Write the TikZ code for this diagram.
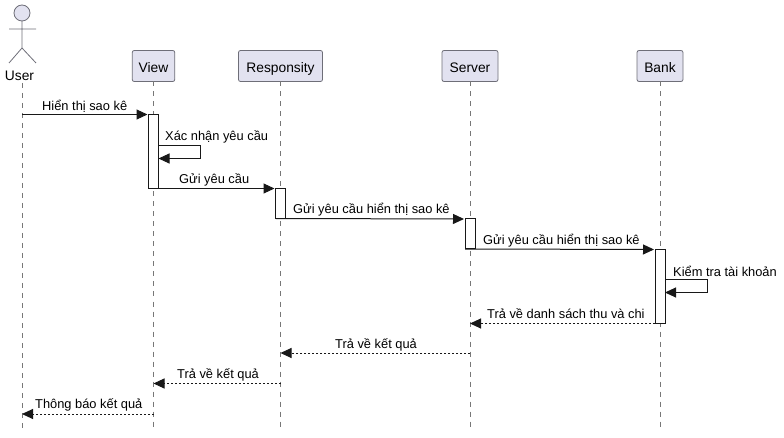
\documentclass[tikz,border=0pt]{standalone}
\usepackage{fontspec}
\setmainfont{Liberation Sans}
\usetikzlibrary{arrows.meta}
\definecolor{partfill}{HTML}{E2E2F0}
\definecolor{partline}{HTML}{6E6E78}
\definecolor{lifecol}{HTML}{777777}
\definecolor{msgcol}{HTML}{181818}
\tikzset{
  x=1pt,y=-1pt,
  part/.style={draw=partline,fill=partfill,rounded corners=2pt,line width=.8pt,minimum height=31pt,inner sep=0pt,outer sep=0pt,font=\fontsize{13.8}{14}\selectfont,anchor=center,text depth=0pt,text height=13pt},
  life/.style={draw=lifecol,line width=.8pt,dash pattern=on 5pt off 5pt},
  act/.style={draw=msgcol,fill=white,line width=1pt,minimum width=10pt,inner sep=0pt,outer sep=0pt,anchor=north,rectangle},
  msg/.style={draw=msgcol,line width=1pt,-{Triangle[length=11pt,width=10pt,color=msgcol]}},
  fwd/.style={msg,shorten >=1pt},
  ret/.style={msg,dash pattern=on 2pt off 2pt},
  lab/.style={inner sep=0pt,anchor=west,font=\fontsize{12.85}{14}\selectfont,text=black},
}
\begin{document}
\begin{tikzpicture}
\useasboundingbox (0,0) rectangle (784,438);
% participants
\node[part,minimum width=42.5pt] (view) at (153.5,66) {View};
\node[part,minimum width=84pt] (resp) at (280.5,66) {Responsity};
\node[part,minimum width=56pt] (serv) at (470,66) {Server};
\node[part,minimum width=46pt] (bank) at (660,66) {Bank};
% actor
\node[draw=partline,fill=partfill,circle,minimum size=16pt,inner sep=0pt,outer sep=0pt,line width=.8pt] (head) at (22,13) {};
\coordinate (hip) at (22,48);
\coordinate (armL) at (9,29);
\coordinate (armR) at (36,29);
\coordinate (legL) at (9,63);
\coordinate (legR) at (36,63);
\draw[draw=partline,line width=.8pt] (head.south) -- (hip) (armL) -- (armR) (legL) -- (hip) -- (legR);
\node[inner sep=0pt,font=\fontsize{13.8}{14}\selectfont] (user) at (19.5,75.5) {User};
% lifeline ends
\coordinate (userTop) at (22,83);
\coordinate (userEnd) at (22,428);
\coordinate (viewEnd) at (153.5,428);
\coordinate (respEnd) at (280.5,428);
\coordinate (servEnd) at (470,428);
\coordinate (bankEnd) at (660,428);
\draw[life] (userTop) -- (userEnd);
\draw[life] (view.south) -- (viewEnd);
\draw[life] (resp.south) -- (respEnd);
\draw[life] (serv.south) -- (servEnd);
\draw[life] (bank.south) -- (bankEnd);
% activations
\node[act,minimum height=74pt] (viewA) at (153.5,114.5) {};
\node[act,minimum height=30pt] (respA) at (280.5,188.5) {};
\node[act,minimum height=30pt] (servA) at (470,219) {};
\node[act,minimum height=74pt] (bankA) at (660,249.5) {};
% message end points
\coordinate (u1) at (22,114.5);
\coordinate (s1a) at (200.5,145.5);
\coordinate (s1b) at (200.5,158.5);
\coordinate (v1a) at (158.5,145.5);
\coordinate (v1b) at (158.5,158.5);
\coordinate (s2a) at (707.5,279.5);
\coordinate (s2b) at (707.5,292.5);
\coordinate (b1a) at (665,279.5);
\coordinate (b1b) at (665,292.5);
\coordinate (sR) at (470,323.5);
\coordinate (r1) at (470,353);
\coordinate (r2) at (280.5,353);
\coordinate (r3) at (280.5,383.5);
\coordinate (r4) at (153.5,383.5);
\coordinate (r5) at (153.5,414);
\coordinate (r6) at (22,414);
% messages
\draw[fwd] (u1) -- (viewA.north west);
\draw[msg] (v1a) -- (s1a) -- (s1b) -- (v1b);
\draw[fwd] (viewA.south west) -- (respA.north west);
\draw[fwd] (respA.south west) -- (servA.north west);
\draw[fwd] (servA.south west) -- (bankA.north west);
\draw[msg] (b1a) -- (s2a) -- (s2b) -- (b1b);
\draw[ret] (bankA.south west) -- (sR);
\draw[ret] (r1) -- (r2);
\draw[ret] (r3) -- (r4);
\draw[ret] (r5) -- (r6);
% labels
\node[lab] (m1) at (42,106) {Hiển thị sao kê};
\node[lab] (m2) at (165,137) {Xác nhận yêu cầu};
\node[lab] (m3) at (179,180) {Gửi yêu cầu};
\node[lab] (m4) at (293,210) {Gửi yêu cầu hiển thị sao kê};
\node[lab] (m5) at (483,241) {Gửi yêu cầu hiển thị sao kê};
\node[lab] (m6) at (673,271) {Kiểm tra tài khoản};
\node[lab] (m7) at (487,314) {Trả về danh sách thu và chi};
\node[lab] (m8) at (335,345) {Trả về kết quả};
\node[lab] (m9) at (177,375) {Trả về kết quả};
\node[lab] (m10) at (35,405) {Thông báo kết quả};
\end{tikzpicture}
\end{document}
